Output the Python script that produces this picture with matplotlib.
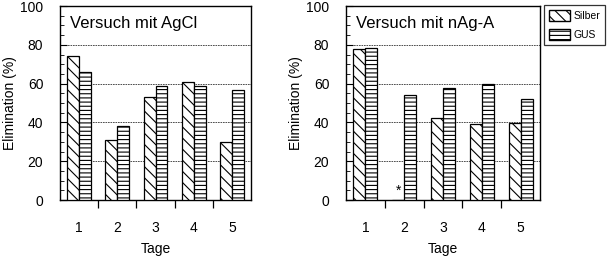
import numpy as np
import matplotlib.pyplot as plt
from matplotlib.patches import Patch
from matplotlib.ticker import MultipleLocator, FixedLocator

plt.rcParams['font.family'] = ['Liberation Sans', 'DejaVu Sans']
plt.rcParams['hatch.linewidth'] = 0.8

tage = [1, 2, 3, 4, 5]
agcl_silber = [74, 31, 53, 61, 30]
agcl_gus = [66, 38, 59, 59, 56.5]
nag_silber = [78, 0, 42.5, 39, 39.5]
nag_gus = [78.5, 54, 57.5, 60, 52]

fig = plt.figure(figsize=(6.09, 2.56), dpi=100)
ax1 = fig.add_axes([60 / 609, 1 - 200 / 256, 191 / 609, 194 / 256])
ax2 = fig.add_axes([346 / 609, 1 - 200 / 256, 194 / 609, 194 / 256])

w = 0.31
x = np.array(tage)


def draw(ax, silber, gus, title):
    ax.bar(x - w / 2, silber, w, facecolor='white', edgecolor='black',
           hatch='\\\\\\', linewidth=0.9, zorder=3)
    ax.bar(x + w / 2, gus, w, facecolor='white', edgecolor='black',
           hatch='----', linewidth=0.9, zorder=3)
    ax.set_xlim(0.5, 5.5)
    ax.set_ylim(0, 100)
    ax.set_yticks([0, 20, 40, 60, 80, 100])
    ax.yaxis.set_minor_locator(MultipleLocator(5))
    ax.set_xticks(tage)
    ax.xaxis.set_minor_locator(FixedLocator([1.5, 2.5, 3.5, 4.5]))
    ax.tick_params(axis='x', which='major', length=0, pad=15, labelsize=10)
    ax.tick_params(axis='x', which='minor', length=6, direction='out', width=0.9)
    ax.tick_params(axis='y', which='major', direction='in', length=5, pad=12, labelsize=10)
    ax.tick_params(axis='y', which='minor', direction='in', length=3)
    for y in [20, 40, 60, 80]:
        ax.axhline(y, color='#333333', linestyle=(0, (2, 1)), linewidth=0.6, zorder=1)
    for s in ax.spines.values():
        s.set_linewidth(1.0)
    ax.set_xlabel('Tage', fontsize=10, labelpad=5)
    ax.set_ylabel('Elimination (%)', fontsize=10, labelpad=2)
    ax.text(0.05, 0.912, title, transform=ax.transAxes, fontsize=12, va='center')


draw(ax1, agcl_silber, agcl_gus, 'Versuch mit AgCl')
draw(ax2, nag_silber, nag_gus, 'Versuch mit nAg-A')
ax2.text(2 - w / 2, 5, '*', ha='center', va='center', fontsize=10)

handles = [Patch(facecolor='white', edgecolor='black', hatch='\\\\\\', label='Silber'),
           Patch(facecolor='white', edgecolor='black', hatch='----', label='GUS')]
leg = fig.legend(handles=handles, loc='upper left', bbox_to_anchor=(544 / 609, 1 - 5 / 256),
                 fontsize=7.5, frameon=True, fancybox=False, edgecolor='black',
                 handlelength=2.0, handleheight=1.3, borderpad=0.45, labelspacing=0.75,
                 handletextpad=0.4, borderaxespad=0)
leg.get_frame().set_linewidth(0.9)

fig.savefig('out.png', dpi=100)
